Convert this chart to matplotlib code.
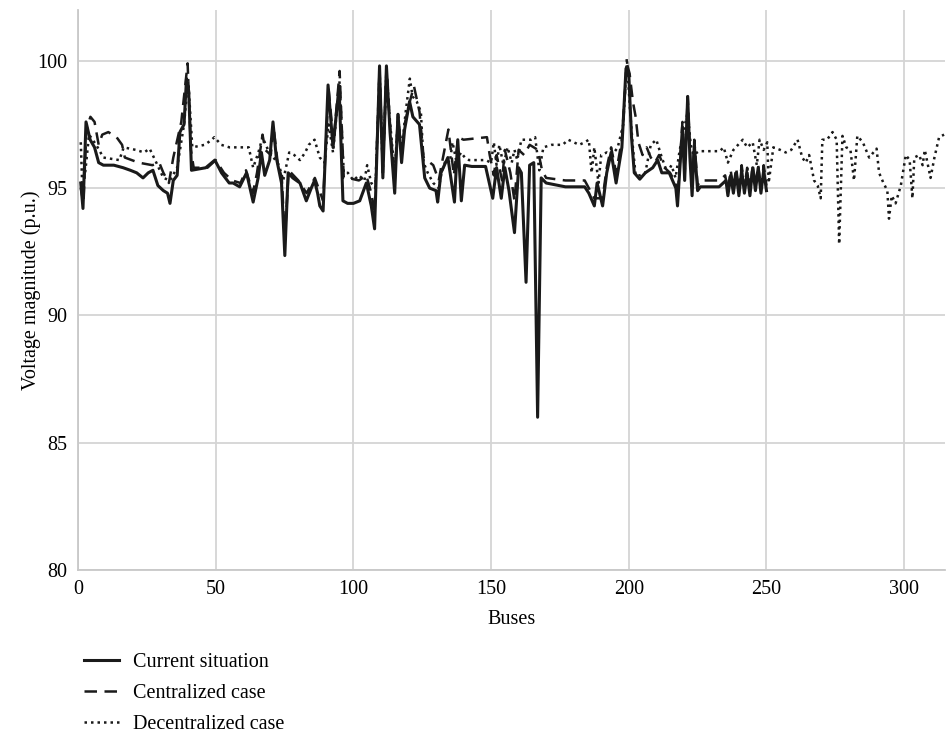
import matplotlib
matplotlib.use('Agg')
import matplotlib.pyplot as plt

plt.rcParams['font.family'] = ['Liberation Serif', 'DejaVu Serif']

# Current situation (bus, voltage)
cur_bus = [1, 1.8, 2.9, 4.4, 6, 7.5, 9.2, 13, 16.4, 19, 21.3, 23.6, 25.5, 27.2, 29, 31, 32.5, 33.4,
           34.6, 36, 37, 38.5, 39.4, 40.2, 41.2, 46.4, 49.7, 52.1, 54.9, 56.3, 58.7, 61.2, 63.6,
           65.4, 66.6, 67.8, 69.6, 70.8, 72, 73.9, 75.1, 76.3, 78, 80.6, 82.9, 84.7, 85.9, 87,
           87.8, 89, 90.8, 92.6, 94.8, 96.2, 97.9, 100, 102.3, 104.7, 106.5, 107.7, 109.5, 110.7,
           112, 113.3, 115, 116.2, 117.5, 118.6, 120.4, 121.6, 124, 125.9, 127.7, 130, 130.6,
           131.8, 134.3, 136.7, 137.9, 139.2, 140.4, 143, 148, 150.6, 152, 153.7, 155, 156.5,
           158.5, 160, 161, 162.7, 164, 165.5, 166.9, 168.2, 170, 177, 184, 185.5, 187.5, 188.5,
           190.5, 192, 193.6, 195.4, 197.5, 199, 200, 201, 202, 204, 206, 208.7, 210.5, 212,
           214.7, 217.1, 217.7, 219.5, 220.3, 221.4, 222.2, 223, 223.8, 225, 226, 232.8, 235.3,
           236, 237, 238, 239, 240, 241, 242, 243, 244, 245, 246, 247, 248, 249, 250]
cur_v = [95.2, 94.2, 97.6, 96.9, 96.6, 96.0, 95.9, 95.9, 95.8, 95.7, 95.6, 95.4, 95.6, 95.7, 95.1,
         94.9, 94.8, 94.4, 95.3, 95.5, 97.2, 97.5, 99.3, 98.8, 95.7, 95.8, 96.1, 95.6, 95.2, 95.2,
         95.05, 95.6, 94.45, 95.4, 96.4, 95.5, 96.1, 97.6, 96.2, 95.2, 92.35, 95.6, 95.4, 95.2,
         94.5, 95.0, 95.3, 94.8, 94.3, 94.1, 99.05, 96.6, 99.0, 94.5, 94.4, 94.4, 94.5, 95.2,
         94.3, 93.4, 99.8, 95.4, 99.8, 97.2, 94.8, 97.9, 96.0, 97.3, 98.4, 97.8, 97.5, 95.4,
         95.0, 94.9, 94.45, 95.6, 96.2, 94.45, 96.9, 94.5, 95.9, 95.85, 95.85, 94.6, 95.8, 94.6,
         95.8, 94.9, 93.25, 95.8, 95.6, 91.3, 95.9, 96.0, 86.0, 95.4, 95.2, 95.05, 95.05, 94.8,
         94.3, 95.2, 94.3, 95.6, 96.4, 95.2, 96.6, 99.7, 99.5, 97.0, 95.6, 95.35, 95.6, 95.8,
         96.1, 95.6, 95.6, 95.0, 94.3, 97.4, 95.3, 98.6, 96.2, 94.7, 96.7, 94.9, 95.05, 95.05,
         95.3, 94.7, 95.5, 94.8, 95.6, 94.7, 95.7, 94.8, 95.6, 94.7, 95.8, 94.9, 95.8, 94.8,
         95.7, 94.9]

# Centralized case
cen_bus = [1, 2, 3, 4.5, 6, 7.5, 8.8, 11, 14, 16, 17, 22, 27, 29.5, 31, 33, 34.6, 37.5, 39.8, 41,
           42, 47, 50, 53, 56, 59, 61, 63.5, 65, 67, 68, 70, 71, 72.5, 74, 75.1, 76.5, 80, 83,
           86, 89, 91, 92.8, 95, 96.5, 98, 102, 104.7, 106.5, 107.7, 109.5, 110.7, 112, 113.3,
           115, 116.2, 117.5, 118.6, 120.5, 122, 124, 125.5, 129, 131, 132, 134.5, 136.5, 138,
           140, 148.5, 149.5, 151, 152, 154, 155, 157, 158.5, 160, 162, 164, 167, 168.5, 170,
           177, 184, 187.5, 190.5, 192, 193.6, 195.4, 197.5, 199.3, 200.3, 201.5, 202.5, 203.5,
           205, 206.5, 208, 209.5, 211, 213, 215, 217, 217.7, 219.5, 220.3, 221.4, 222.2, 223,
           223.8, 225, 226, 233, 235, 236, 237, 238, 239, 240, 241, 242, 243, 244, 245, 246,
           247, 248, 249, 250]
cen_v = [95.0, 94.4, 97.3, 97.8, 97.6, 96.7, 97.1, 97.2, 97.0, 96.7, 96.2, 96.0, 95.9, 96.0, 95.6,
         95.2, 96.2, 97.6, 99.9, 96.5, 95.8, 95.8, 96.1, 95.6, 95.3, 95.2, 95.7, 94.8, 95.6, 97.1,
         96.5, 96.3, 97.4, 96.0, 95.4, 93.0, 95.7, 95.3, 94.8, 95.4, 94.5, 98.9, 96.8, 99.6, 95.4,
         95.4, 95.3, 95.5, 94.8, 94.0, 99.7, 95.6, 99.7, 97.5, 95.3, 97.9, 96.3, 97.5, 98.4, 99.0,
         98.0, 96.2, 95.9, 95.3, 95.9, 97.3, 95.5, 97.0, 96.9, 97.0, 96.3, 95.5, 96.3, 95.3, 96.5,
         95.6, 94.5, 96.5, 96.3, 96.7, 96.5, 95.7, 95.4, 95.3, 95.3, 94.6, 94.6, 95.8, 96.6, 95.6,
         96.9, 99.9, 99.5, 98.4, 97.8, 96.8, 96.3, 96.6, 96.2, 96.0, 96.3, 95.8, 95.6, 95.2, 94.6,
         97.6, 95.5, 98.6, 96.6, 95.0, 96.9, 95.1, 95.3, 95.3, 95.5, 94.9, 95.7, 95.0, 95.8, 94.9,
         95.9, 95.0, 95.8, 94.9, 95.9, 95.1, 95.9, 95.0, 95.9, 95.1]

# Decentralized case
dec_bus = [1, 1.5, 2.5, 4, 6.6, 9.2, 15, 16.6, 21, 24, 26, 28, 31, 33.4, 36, 38.5, 40, 41.5, 46,
           48.6, 49.5, 52, 55, 62, 63.6, 65.5, 67, 69, 73, 74.5, 76.7, 78.5, 80.6, 82.5, 83.8,
           85.9, 87.8, 89.5, 91, 92.6, 95, 96.5, 98, 100, 102, 104, 105, 106.5, 108, 109.5,
           110.7, 112, 113.3, 115, 116.2, 117.5, 119, 120.5, 121.5, 123, 124.5, 125.5, 127, 129,
           131, 132, 133.5, 135, 136, 137.5, 139, 140.5, 142, 148, 150, 151, 152, 153, 154.5,
           156, 157.5, 158.5, 159.5, 161, 163, 164.5, 166, 167.5, 169, 172, 176, 178, 182, 184,
           185.5, 186.5, 187.5, 189, 190, 192, 194, 196, 198, 199.3, 200.5, 201.5, 202.5, 204,
           206, 208, 210, 212, 214, 215.5, 217, 218.5, 219.5, 221.4, 222.5, 223.5, 225.5, 233,
           234.5, 236, 238, 241.4, 243, 245, 246.5, 247.5, 249, 250.3, 250.8, 252.5, 255, 257,
           259, 261.3, 263, 264.3, 265.5, 267.3, 268.6, 269.7, 270.3, 272, 274, 275.5, 276.4,
           277.6, 279, 280.5, 281.8, 283, 285, 287.3, 290, 290.9, 292.5, 293.9, 294.5, 295.5,
           296.9, 298.8, 300.6, 302, 303, 303.7, 305.5, 306.7, 307.5, 309.6, 311, 312.7, 314.5]
dec_v = [96.8, 95.2, 95.5, 97.1, 96.7, 96.2, 96.1, 96.6, 96.5, 96.4, 96.55, 96.1, 95.4, 95.3, 95.8,
         97.5, 99.3, 96.6, 96.7, 96.9, 97.0, 96.7, 96.6, 96.6, 95.8, 96.4, 97.0, 96.5, 95.9, 95.3,
         96.4, 96.3, 96.1, 96.4, 96.7, 96.9, 96.2, 96.0, 97.5, 96.4, 99.2, 95.6, 95.6, 95.3, 95.5,
         95.3, 95.9, 95.2, 95.0, 99.6, 95.7, 99.6, 97.6, 95.6, 97.8, 96.5, 98.0, 99.3, 98.6, 98.4,
         98.0, 96.0, 95.6, 95.2, 95.0, 95.6, 96.1, 96.0, 96.8, 96.0, 96.4, 96.2, 96.1, 96.1, 96.0,
         96.8, 95.9, 96.7, 95.9, 96.6, 96.0, 96.5, 96.1, 96.9, 96.9, 96.9, 97.0, 95.7, 96.6, 96.7,
         96.7, 96.9, 96.7, 96.8, 96.9, 95.6, 96.6, 95.2, 96.3, 96.4, 96.3, 96.6, 97.5, 100.1, 98.0,
         96.6, 95.5, 95.5, 95.6, 96.7, 96.9, 96.2, 95.6, 95.9, 95.4, 96.5, 97.0, 98.0, 96.7, 96.3,
         96.45, 96.45, 96.6, 96.0, 96.5, 96.9, 96.6, 96.8, 95.9, 96.9, 96.5, 96.8, 95.2, 96.6,
         96.5, 96.4, 96.5, 96.9, 96.2, 96.0, 96.3, 95.3, 95.1, 94.6, 96.9, 96.9, 97.2, 96.9, 92.8,
         97.05, 96.6, 96.5, 95.3, 97.05, 96.8, 96.2, 96.55, 95.6, 95.2, 94.9, 93.8, 94.7, 94.4,
         95.1, 96.3, 96.1, 94.6, 96.2, 96.3, 95.9, 96.5, 95.4, 96.2, 97.0, 97.1]

fig = plt.figure(figsize=(9.48, 7.37), dpi=100)
ax = fig.add_axes([0.0823, 0.2266, 0.915, 0.76])

ax.plot(cur_bus, cur_v, color='#1a1a1a', linewidth=2.2, linestyle='-', label='Current situation')
ax.plot(cen_bus, cen_v, color='#1a1a1a', linewidth=1.8, linestyle=(0, (5, 3)), label='Centralized case')
ax.plot(dec_bus, dec_v, color='#1a1a1a', linewidth=1.8, linestyle=(0, (1, 1.6)), label='Decentralized case')

ax.set_xlim(0, 315)
ax.set_ylim(80, 102)
ax.set_xticks([0, 50, 100, 150, 200, 250, 300])
ax.set_yticks([80, 85, 90, 95, 100])
ax.grid(True, color='#d4d4d4', linewidth=1.3)
ax.set_axisbelow(True)
ax.tick_params(length=0, labelsize=14.5)
ax.tick_params(axis='x', pad=7)
ax.tick_params(axis='y', pad=8)
for s in ['top', 'right']:
    ax.spines[s].set_visible(False)
for s in ['left', 'bottom']:
    ax.spines[s].set_color('#c8c8c8')
    ax.spines[s].set_linewidth(1.3)
ax.set_xlabel('Buses', fontsize=14.5, labelpad=8)
ax.set_ylabel('Voltage magnitude (p.u.)', fontsize=14.5, labelpad=-3)

fig.legend(loc='upper left', bbox_to_anchor=(0.078, 0.128), frameon=False, fontsize=14.5,
           handlelength=1.75, labelspacing=0.6, handletextpad=0.7, borderpad=0)

fig.savefig('out.png', dpi=100)
